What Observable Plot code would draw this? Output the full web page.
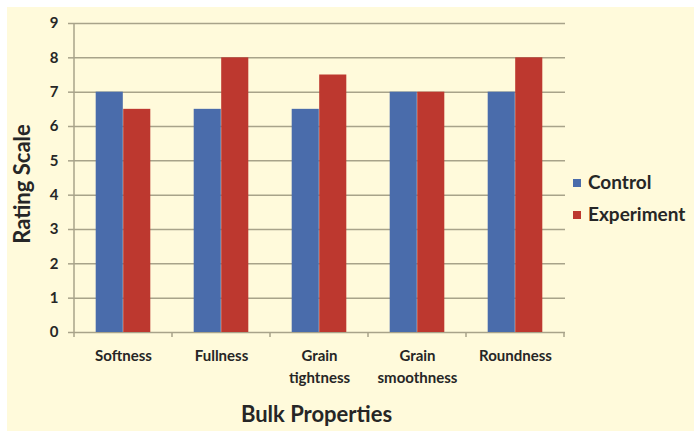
<!DOCTYPE html>
<html><head><meta charset="utf-8">
<script src="https://cdn.jsdelivr.net/npm/d3@7"></script>
<script src="https://cdn.jsdelivr.net/npm/@observablehq/plot@0.6"></script>
<style>
body{margin:0;background:#fff;width:694px;height:433px;overflow:hidden;font-family:Lato,sans-serif;position:relative;}
#bg{position:absolute;left:7px;top:7px;width:687px;height:424px;background:#fffadb;}
#chart{position:absolute;left:0;top:0;}
.leg{position:absolute;font-weight:bold;font-size:19px;color:#262626;white-space:nowrap;line-height:20px;}
.sw{display:inline-block;width:8px;height:8px;margin-right:7px;vertical-align:2px;}
</style></head>
<body>
<div id="bg"></div>
<div id="chart"></div>
<div id="legend"></div>
<script>
const categories = ["Softness","Fullness","Grain tightness","Grain smoothness","Roundness"];
const tickLabels = ["Softness","Fullness","Grain\ntightness","Grain\nsmoothness","Roundness"];
const series = ["Control","Experiment"];
const control = [7, 6.5, 6.5, 7, 7];
const experiment = [6.5, 8, 7.5, 7, 8];
const yTicks = [0,1,2,3,4,5,6,7,8,9];
const colors = ["#4a6cab","#bd382f"];

const data = categories.flatMap((c,i)=>[
  {category:c, series:"Control", value:control[i]},
  {category:c, series:"Experiment", value:experiment[i]}
]);

const axisColor = "#a8a38a";
const plot = Plot.plot({
  width:694, height:433,
  marginLeft:73, marginRight:129, marginTop:23, marginBottom:101,
  style:{background:"transparent", fontFamily:"Lato, sans-serif", fontWeight:"bold", color:"#262626"},
  x:{domain:categories, padding:0, label:null},
  y:{domain:[0,9], label:null},
  color:{domain:series, range:colors},
  marks:[
    Plot.ruleY(yTicks, {stroke:axisColor, strokeWidth:1.5}),
    Plot.barY(data.filter(d=>d.series==="Control"), {x:"category", y:"value", fill:"series", insetLeft:21.7, insetRight:49.2}),
    Plot.barY(data.filter(d=>d.series==="Experiment"), {x:"category", y:"value", fill:"series", insetLeft:49.2, insetRight:21.7}),
    Plot.axisY({ticks:yTicks, tickSize:5, tickPadding:10, fontSize:15, stroke:axisColor, strokeWidth:1.5, tickFormat:d=>String(d), label:null}),
    Plot.axisX({tickSize:0, tickPadding:13, fontSize:15, lineHeight:1.45, tickFormat:(d,i)=>tickLabels[i], label:null}),
    Plot.text(["Rating Scale"], {frameAnchor:"left", textAnchor:"middle", rotate:-90, dx:-51, dy:6, fontSize:22, fontWeight:"bold", fill:"#262626"}),
    Plot.text(["Bulk Properties"], {frameAnchor:"bottom", dy:89, dx:-3, fontSize:22, fontWeight:"bold", fill:"#262626"})
  ]
});
document.getElementById("chart").appendChild(plot);

// axis line and category boundary ticks using the plot's scales
const xs = plot.scale("x"), ys = plot.scale("y");
const svg = d3.select(plot);
const y0 = ys.apply(0), y9 = ys.apply(9);
const x0 = xs.apply(categories[0]);
const bounds = categories.map(c=>xs.apply(c)).concat([xs.apply(categories[categories.length-1]) + xs.bandwidth]);
const g = svg.append("g").attr("stroke", axisColor).attr("stroke-width", 1.5);
g.append("line").attr("x1", x0).attr("x2", x0).attr("y1", y9).attr("y2", y0);
bounds.forEach(b=>g.append("line").attr("x1", b).attr("x2", b).attr("y1", y0).attr("y2", y0+5));

// legend
const legend = document.getElementById("legend");
const legTops = [172, 204];
series.forEach((s,i)=>{
  const d = document.createElement("div");
  d.className = "leg";
  d.style.left = "573px";
  d.style.top = legTops[i] + "px";
  d.innerHTML = `<span class="sw" style="background:${colors[i]}"></span>${s}`;
  legend.appendChild(d);
});
</script>
</body></html>
